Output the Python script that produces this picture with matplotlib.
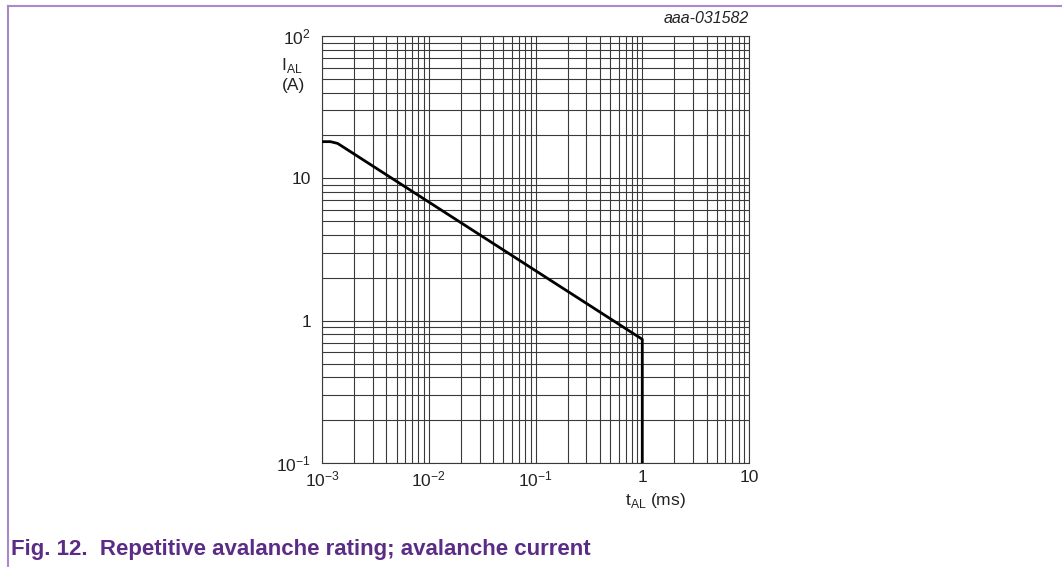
import matplotlib.pyplot as plt
from matplotlib.lines import Line2D
from matplotlib.ticker import LogLocator, FixedLocator, NullFormatter

plt.rcParams['font.family'] = ['Liberation Sans', 'DejaVu Sans']
plt.rcParams['axes.unicode_minus'] = False

# avalanche current vs pulse time
t_al = [1e-3, 1.2e-3, 1.4e-3, 1.0, 1.0]
i_al = [18.1, 18.1, 17.6, 0.74, 0.1]

xticks = [1e-3, 1e-2, 1e-1, 1, 10]
xlabels = ["$\\mathregular{10^{-3}}$", "$\\mathregular{10^{-2}}$", "$\\mathregular{10^{-1}}$", "1", "10"]
yticks = [1e-1, 1, 10, 100]
ylabels = ["$\\mathregular{10^{-1}}$", "1", "10", "$\\mathregular{10^{2}}$"]

fig = plt.figure(figsize=(10.62, 5.67), dpi=100)
ax = fig.add_axes([0.3032, 0.1834, 0.4021, 0.7531])
ax.set_xscale('log')
ax.set_yscale('log')
ax.set_xlim(1e-3, 10)
ax.set_ylim(0.1, 100)

ax.xaxis.set_major_locator(FixedLocator(xticks))
ax.yaxis.set_major_locator(FixedLocator(yticks))
ax.set_xticklabels(xlabels)
ax.set_yticklabels(ylabels)
ax.xaxis.set_minor_locator(LogLocator(base=10, subs=range(2, 10)))
ax.yaxis.set_minor_locator(LogLocator(base=10, subs=range(2, 10)))
ax.xaxis.set_minor_formatter(NullFormatter())
ax.yaxis.set_minor_formatter(NullFormatter())
ax.tick_params(which='both', length=0, labelsize=12.5, colors='#222222')
ax.tick_params(axis='x', pad=5)
ax.tick_params(axis='y', pad=8)

ax.grid(True, which='both', color='#3a3a3a', linewidth=0.8)
for s in ax.spines.values():
    s.set_color('#3a3a3a')
    s.set_linewidth(0.8)

ax.plot(t_al, i_al, color='black', linewidth=2.0, zorder=3)

fig.text(0.265, 0.902, "I$_{\\mathregular{AL}}$\n(A)", fontsize=12.5, ha='left', va='top',
         linespacing=1.25, color='#222222')
fig.text(0.617, 0.118, "t$_{\\mathregular{AL}}$ (ms)", fontsize=12.5, ha='center', va='center',
         color='#222222')
fig.text(0.705, 0.955, "aaa-031582", fontsize=11.5, style='italic', ha='right', va='bottom',
         color='#222222')

purple = '#5b2c86'
fig.text(0.010, 0.022, "Fig. 12.  Repetitive avalanche rating; avalanche current",
         fontsize=16, fontweight='bold', color=purple, ha='left', va='baseline')

# page frame
frame = '#a78bc8'
fig.add_artist(Line2D([0.0075, 1.0], [0.9895, 0.9895], color=frame, linewidth=1.5,
                      transform=fig.transFigure))
fig.add_artist(Line2D([0.0075, 0.0075], [0.0, 0.9895], color=frame, linewidth=1.5,
                      transform=fig.transFigure))

fig.savefig("out.png", dpi=100, facecolor='white')
